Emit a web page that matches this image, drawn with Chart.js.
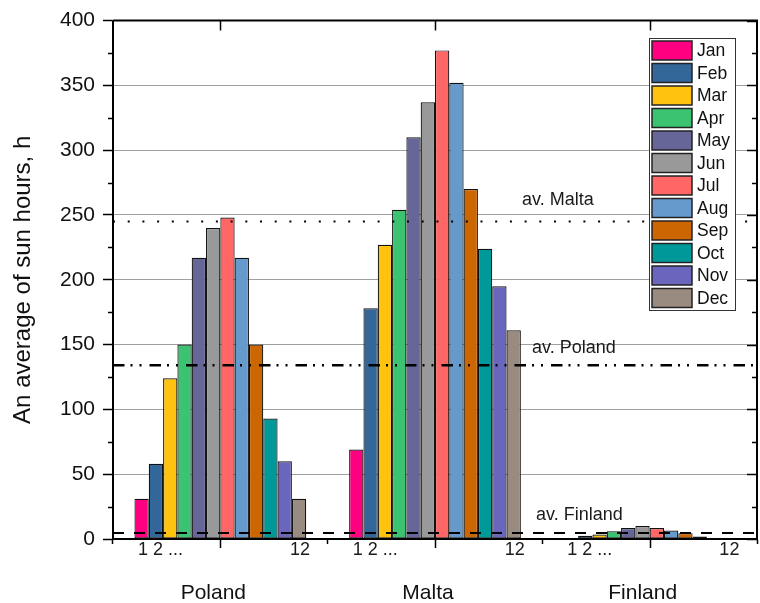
<!DOCTYPE html>
<html>
<head>
<meta charset="utf-8">
<title>Sun hours</title>
<script src="https://cdn.jsdelivr.net/npm/chart.js@4/dist/chart.umd.min.js"></script>
<style>
  html, body { margin: 0; padding: 0; background: #fff; }
  #wrap { width: 760px; height: 603px; }
</style>
</head>
<body>
<div id="wrap"><canvas id="chart" width="760" height="603"></canvas></div>
<script>
'use strict';

// data
const countries = ['Poland', 'Malta', 'Finland'];
const months = ['Jan', 'Feb', 'Mar', 'Apr', 'May', 'Jun', 'Jul', 'Aug', 'Sep', 'Oct', 'Nov', 'Dec'];
const monthColors = ['#ff0080', '#336699', '#ffc20e', '#3cc371', '#666699', '#999999',
                     '#ff6666', '#6699cc', '#cc6600', '#009999', '#6a66bd', '#9a8b80'];
const poland = [31, 58, 124, 150, 217, 240, 248, 217, 150, 93, 60, 31];
const malta = [69, 178, 227, 254, 310, 337, 377, 352, 270, 224, 195, 161];
const finland = [0.5, 2.5, 3.5, 6, 8.5, 10, 8.5, 6.5, 4.5, 2, 0.8, 0.3];
const averages = [134, 245, 4.6];
const averageLabels = ['av. Poland', 'av. Malta', 'av. Finland'];
const firstMonthLabel = '1 2 ...';
const lastMonthLabel = '12';
const yMin = 0, yMax = 400, yStep = 50;

const FONT = "'Liberation Sans', Arial, sans-serif";

const datasets = months.map((m, i) => ({
  label: m,
  data: [poland[i], malta[i], finland[i]],
  backgroundColor: monthColors[i],
  borderColor: '#111',
  borderWidth: 1.2,
  borderSkipped: false,
  categoryPercentage: 0.8,
  barPercentage: 1.0
}));

// average lines + their captions, drawn over the bars
const avgLines = {
  id: 'avgLines',
  afterDatasetsDraw(chart) {
    const {ctx, chartArea: a, scales: {y}} = chart;
    const dashes = [[11.5, 6, 2, 7, 2, 8], [2, 12.7], [11, 10]];
    const widths = [2.5, 2, 2];
    const textX = [532, 522, 536];
    const textDy = [-12, -16, -13];
    ctx.save();
    averages.forEach((v, i) => {
      const py = y.getPixelForValue(v);
      ctx.beginPath();
      ctx.setLineDash(dashes[i]);
      ctx.lineWidth = widths[i];
      ctx.strokeStyle = '#000';
      ctx.moveTo(a.left, py);
      ctx.lineTo(a.right, py);
      ctx.stroke();
      ctx.setLineDash([]);
      ctx.fillStyle = '#1a1a1a';
      ctx.font = '18px ' + FONT;
      ctx.textAlign = 'left';
      ctx.textBaseline = 'alphabetic';
      ctx.fillText(averageLabels[i], textX[i], py + textDy[i]);
    });
    ctx.restore();
  }
};

// frame, extra tick marks and the "1 2 ... 12" labels
const frame = {
  id: 'frame',
  afterDraw(chart) {
    const {ctx, chartArea: a, scales: {x, y}} = chart;
    ctx.save();
    ctx.strokeStyle = '#000';
    ctx.lineWidth = 2;
    ctx.beginPath();
    ctx.moveTo(a.left, a.top);
    ctx.lineTo(a.right, a.top);
    ctx.lineTo(a.right, a.bottom);
    ctx.stroke();

    ctx.lineWidth = 1.5;
    ctx.beginPath();
    for (let v = yMin; v <= yMax; v += yStep / 2) {
      const py = Math.round(y.getPixelForValue(v)) + 0.5;
      const major = v % yStep === 0;
      if (!major) {
        ctx.moveTo(a.left - 5, py);
        ctx.lineTo(a.left, py);
      }
      ctx.moveTo(a.right, py);
      ctx.lineTo(a.right - (major ? 10 : 5), py);
    }
    countries.forEach((c, i) => {
      const px = Math.round(x.getPixelForValue(i)) + 0.5;
      ctx.moveTo(px, a.bottom);
      ctx.lineTo(px, a.bottom + 9);
      ctx.moveTo(px, a.top);
      ctx.lineTo(px, a.top + 10);
    });
    ctx.stroke();

    ctx.fillStyle = '#1a1a1a';
    ctx.font = '18px ' + FONT;
    ctx.textBaseline = 'alphabetic';
    const first = chart.getDatasetMeta(0);
    const last = chart.getDatasetMeta(months.length - 1);
    countries.forEach((c, i) => {
      const b0 = first.data[i];
      const b1 = last.data[i];
      ctx.textAlign = 'left';
      ctx.fillText(firstMonthLabel, b0.x - b0.width / 2 + 3.5, a.bottom + 16);
      ctx.textAlign = 'center';
      ctx.fillText(lastMonthLabel, b1.x + 1, a.bottom + 16);
    });
    ctx.restore();
  }
};

// boxed legend inside the plot, top right
const legendBox = {
  id: 'legendBox',
  afterDraw(chart) {
    const {ctx} = chart;
    const left = 649.5, top = 38.5, w = 86, h = 272, pitch = 22.5;
    ctx.save();
    ctx.fillStyle = '#fff';
    ctx.fillRect(left, top, w, h);
    ctx.strokeStyle = '#333';
    ctx.lineWidth = 1;
    ctx.strokeRect(left, top, w, h);
    ctx.font = '17.5px ' + FONT;
    ctx.textAlign = 'left';
    ctx.textBaseline = 'middle';
    chart.data.datasets.forEach((ds, i) => {
      const sy = top + 2.5 + i * pitch;
      ctx.fillStyle = ds.backgroundColor;
      ctx.fillRect(left + 2.5, sy, 40, 19);
      ctx.strokeStyle = '#222';
      ctx.lineWidth = 1.5;
      ctx.strokeRect(left + 2.5, sy, 40, 19);
      ctx.fillStyle = '#111';
      ctx.fillText(ds.label, left + 47.5, sy + 10.5);
    });
    ctx.restore();
  }
};

new Chart(document.getElementById('chart'), {
  type: 'bar',
  data: { labels: countries, datasets: datasets },
  plugins: [avgLines, frame, legendBox],
  options: {
    responsive: false,
    devicePixelRatio: 1,
    animation: false,
    layout: { padding: { left: 0, right: 3, top: 20, bottom: 0 } },
    plugins: {
      legend: { display: false },
      tooltip: { enabled: false }
    },
    scales: {
      x: {
        offset: true,
        afterFit: s => { s.height = 64; },
        border: { display: true, color: '#000', width: 2 },
        grid: {
          offset: true,
          drawOnChartArea: false,
          drawTicks: true,
          tickLength: 5,
          tickColor: '#000',
          tickWidth: 1.5
        },
        ticks: {
          color: '#111',
          font: { family: FONT, size: 21 },
          padding: 37,
          labelOffset: -7,
          maxRotation: 0
        }
      },
      y: {
        min: yMin,
        max: yMax,
        afterFit: s => { s.width = 113; },
        border: { display: true, color: '#000', width: 2 },
        grid: {
          color: c => (c.tick && (c.tick.value === yMin || c.tick.value === yMax)) ? 'rgba(0,0,0,0)' : '#a0a0a0',
          lineWidth: 1,
          drawTicks: true,
          tickLength: 10,
          tickColor: '#000',
          tickWidth: 1.5
        },
        ticks: {
          stepSize: yStep,
          color: '#111',
          font: { family: FONT, size: 21 },
          padding: 8
        },
        title: {
          display: true,
          text: 'An average of sun hours, h',
          color: '#111',
          font: { family: FONT, size: 24 },
          padding: { top: 9, bottom: 0 }
        }
      }
    }
  }
});
</script>
</body>
</html>
